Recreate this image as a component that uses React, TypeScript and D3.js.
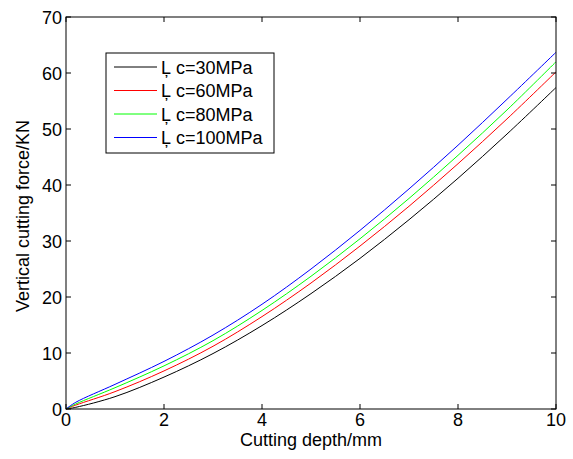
import React, { useEffect, useRef } from 'react';
import * as d3 from 'd3';

// cutting depth (mm)
const depth = [0, 0.2, 1, 2, 3, 4, 5, 6, 7, 8, 9, 10];
// vertical cutting force (KN) for each σc
const force30 = [0, 0.3, 2.2, 5.7, 9.9, 14.9, 20.6, 26.9, 33.8, 41.2, 49.1, 57.4];
const force60 = [0, 0.7, 3.1, 6.8, 11.2, 16.5, 22.5, 29.1, 36.2, 43.8, 51.8, 60.2];
const force80 = [0, 0.9, 3.8, 7.7, 12.2, 17.6, 23.7, 30.4, 37.6, 45.3, 53.4, 62.0];
const force100 = [0, 1.2, 4.4, 8.5, 13.2, 18.7, 25.0, 31.9, 39.3, 47.1, 55.3, 63.7];

const seriesNames = ['Ļ c=30MPa', 'Ļ c=60MPa', 'Ļ c=80MPa', 'Ļ c=100MPa'];
const seriesColors = ['#000000', '#ff0000', '#00ff00', '#0000ff'];
const xTicks = [0, 2, 4, 6, 8, 10];
const yTicks = [0, 10, 20, 30, 40, 50, 60, 70];

const W = 573;
const H = 459;
const FONT = 'Arial, "Liberation Sans", sans-serif';
const FS = 18;

const App = () => {
  const svgRef = useRef<SVGSVGElement>(null);

  useEffect(() => {
    const svg = d3.select(svgRef.current);
    svg.selectAll('*').remove();

    const left = 66, right = 556, top = 17, bottom = 409;
    const x = d3.scaleLinear().domain([0, 10]).range([left, right]);
    const y = d3.scaleLinear().domain([0, 70]).range([bottom, top]);

    svg.append('rect').attr('width', W).attr('height', H).attr('fill', '#fff');

    const all = [force30, force60, force80, force100];
    const gen = d3.line<number>()
      .x((_, i) => x(depth[i]))
      .y(v => y(v))
      .curve(d3.curveCatmullRom.alpha(0.5));

    svg.selectAll('.series')
      .data(all)
      .join('path')
      .attr('class', 'series')
      .attr('d', d => gen(d))
      .attr('fill', 'none')
      .attr('stroke', (_, i) => seriesColors[i])
      .attr('stroke-width', 1);

    // box
    svg.append('rect')
      .attr('x', left).attr('y', top)
      .attr('width', right - left).attr('height', bottom - top)
      .attr('fill', 'none').attr('stroke', '#000').attr('stroke-width', 1);

    const tl = 5;
    const g = svg.append('g').attr('stroke', '#000').attr('stroke-width', 1);
    xTicks.forEach(t => {
      g.append('line').attr('x1', x(t)).attr('x2', x(t)).attr('y1', bottom).attr('y2', bottom - tl);
      g.append('line').attr('x1', x(t)).attr('x2', x(t)).attr('y1', top).attr('y2', top + tl);
    });
    yTicks.forEach(t => {
      g.append('line').attr('x1', left).attr('x2', left + tl).attr('y1', y(t)).attr('y2', y(t));
      g.append('line').attr('x1', right).attr('x2', right - tl).attr('y1', y(t)).attr('y2', y(t));
    });

    svg.selectAll('.xt')
      .data(xTicks)
      .join('text')
      .attr('class', 'xt')
      .attr('x', d => x(d))
      .attr('y', bottom + 17)
      .attr('text-anchor', 'middle')
      .attr('font-family', FONT)
      .attr('font-size', FS)
      .text(d => d);

    svg.selectAll('.yt')
      .data(yTicks)
      .join('text')
      .attr('class', 'yt')
      .attr('x', left - 4)
      .attr('y', d => y(d) + 6.5)
      .attr('text-anchor', 'end')
      .attr('font-family', FONT)
      .attr('font-size', FS)
      .text(d => d);

    svg.append('text')
      .attr('x', (left + right) / 2)
      .attr('y', 446)
      .attr('text-anchor', 'middle')
      .attr('font-family', FONT)
      .attr('font-size', FS)
      .text('Cutting depth/mm');

    svg.append('text')
      .attr('transform', `translate(29,${(top + bottom) / 2 + 3}) rotate(-90)`)
      .attr('text-anchor', 'middle')
      .attr('font-family', FONT)
      .attr('font-size', FS)
      .text('Vertical cutting force/KN');

    // legend
    const lg = svg.append('g');
    lg.append('rect')
      .attr('x', 106).attr('y', 53).attr('width', 168).attr('height', 100)
      .attr('fill', '#fff').attr('stroke', '#000').attr('stroke-width', 1);
    seriesNames.forEach((name, i) => {
      const cy = 67 + i * 23.5;
      lg.append('line')
        .attr('x1', 114).attr('x2', 157).attr('y1', cy).attr('y2', cy)
        .attr('stroke', seriesColors[i]).attr('stroke-width', 1);
      lg.append('text')
        .attr('x', 161).attr('y', cy + 6.5)
        .attr('font-family', FONT)
        .attr('font-size', FS)
        .text(name);
    });
  }, []);

  return <svg ref={svgRef} width={W} height={H} style={{ position: 'absolute', left: 0, top: 0 }} />;
};

export default App;
